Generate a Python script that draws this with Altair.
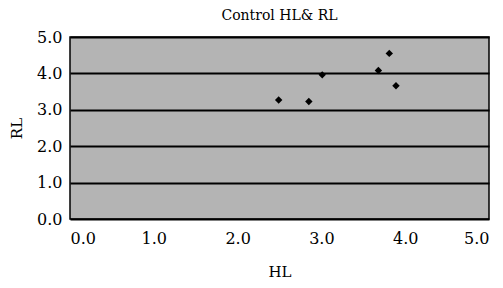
import altair as alt
import pandas as pd

HL = [2.49, 2.85, 3.01, 3.68, 3.81, 3.89]
RL = [3.27, 3.23, 3.96, 4.08, 4.55, 3.66]
ticks = [0, 1, 2, 3, 4, 5]

df = pd.DataFrame({"HL": HL, "RL": RL})
FONT = "'DejaVu Serif', 'Liberation Serif', serif"

chart = alt.Chart(df).mark_point(
    shape="diamond", filled=True, color="black", size=55, opacity=1
).encode(
    x=alt.X("HL:Q", scale=alt.Scale(domain=[0, 5], nice=False),
            axis=alt.Axis(values=ticks, format=".1f", grid=False, ticks=False,
                          domain=False, labelPadding=11, titlePadding=18,
                          labelFontSize=16, titleFontSize=15)),
    y=alt.Y("RL:Q", scale=alt.Scale(domain=[0, 5], nice=False),
            axis=alt.Axis(values=ticks, format=".1f", grid=True, gridColor="black",
                          gridWidth=2, gridOpacity=1, ticks=False, domain=False,
                          labelPadding=8, titlePadding=12,
                          labelFontSize=16, titleFontSize=15)),
).properties(
    width=419, height=182,
    title=alt.TitleParams("Control HL& RL", fontSize=14, font=FONT,
                          fontWeight="normal", color="black", offset=6),
    autosize=alt.AutoSizeParams(type="none"),
    padding={"left": 62, "top": 29, "right": 6, "bottom": 61},
).configure_view(
    fill="#b4b4b4", stroke="black", strokeWidth=1.5
).configure_axis(
    labelFont=FONT, titleFont=FONT, labelColor="black", titleColor="black",
    titleFontWeight="normal"
)

chart.save("out.html", embed_options={"renderer": "svg", "actions": False})
